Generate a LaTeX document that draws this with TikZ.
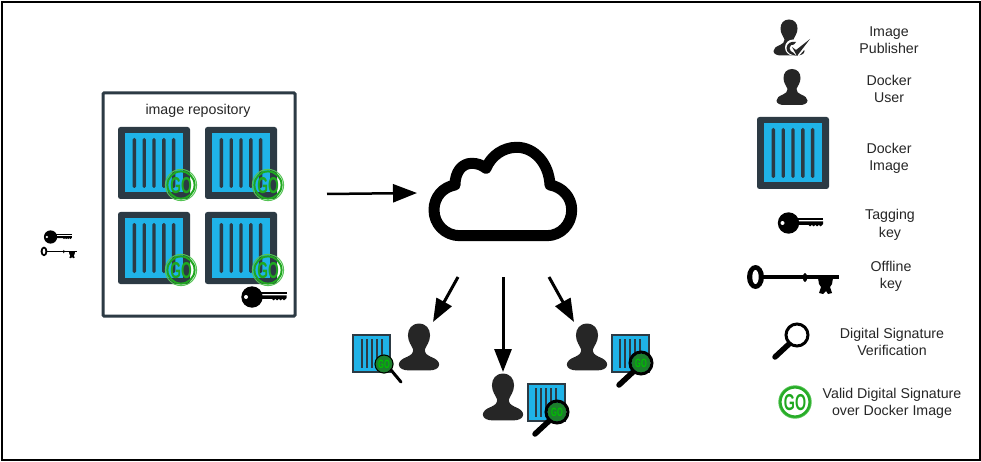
\documentclass[tikz,border=0pt]{standalone}
\usepackage{fontspec}
\usepackage{graphicx}
\setmainfont{Liberation Sans}
\usetikzlibrary{arrows.meta}
\definecolor{slate}{HTML}{2C3A44}
\definecolor{boxblue}{HTML}{1FB3E8}
\definecolor{ink}{HTML}{262626}
\definecolor{gogreen}{HTML}{1FA81F}
\definecolor{goring}{HTML}{55C455}
\definecolor{lensgreen}{HTML}{1C7F2C}
\tikzset{
  x=1pt,y=-1pt,
  lbl/.style={font=\fontsize{14.2}{17.5}\selectfont,align=center,text=ink,inner sep=0pt},
  flow/.style={line width=3pt,draw=black,-{Triangle[length=23pt,width=17pt]}},
  pics/contbox/.style={code={
    \fill[slate,rounded corners=2.5pt] (-36,-36) rectangle (36,36);
    \fill[boxblue] (-29,-29.5) rectangle (29,29.5);
    \foreach \bx in {-19.6,-9.8,0,9.8,19.6}
      \fill[slate,rounded corners=1.5pt] (\bx-1.7,-25) rectangle (\bx+1.7,25);
  }},
  pics/minibox/.style={code={
    \fill[slate] (-19.5,-19.5) rectangle (19.5,19.5);
    \fill[boxblue] (-17.5,-17.5) rectangle (17.5,17.5);
    \foreach \bx in {-10,-5,0,5,10}
      \fill[slate] (\bx-1,-14.5) rectangle (\bx+1,14.5);
  }},
  pics/person/.style={code={
    \fill[ink] (0,-18) .. controls (5.5,-18) and (8.5,-14) .. (8.5,-9)
      .. controls (8.5,-4) and (5.5,-1) .. (4.5,2)
      .. controls (4.5,5) and (6,6) .. (9,7.5)
      .. controls (13,9) and (15.5,11) .. (15.5,13.5)
      .. controls (15.5,16.5) and (12,18) .. (8,18) -- (-8,18)
      .. controls (-12,18) and (-15.5,16.5) .. (-15.5,13.5)
      .. controls (-15.5,11) and (-13,9) .. (-9,7.5)
      .. controls (-6,6) and (-4.5,5) .. (-4.5,2)
      .. controls (-5.5,-1) and (-8.5,-4) .. (-8.5,-9)
      .. controls (-8.5,-14) and (-5.5,-18) .. (0,-18) -- cycle;
  }},
  pics/tagkey/.style={code={
    \fill[black] (-12,0) circle (10.7);
    \fill[black] (-5,-5) rectangle (22.5,-2.9);
    \fill[black] (-5,-1.6) -- (22.5,-1.6) -- (22.5,1.2) -- (20,3.4) -- (18.5,1.8) -- (16.5,3.4) -- (15,1.8) -- (13,3.4) -- (11.5,1.8) -- (9.5,3.4) -- (8,1.8) -- (-5,1.8) -- cycle;
    \fill[white] (-18,0) circle (2);
  }},
  pics/oldkey/.style={code={
    \fill[black] (-37.5,-4) ellipse [x radius=8.5,y radius=12];
    \fill[black] (-30,-5.7) rectangle (45.5,-1.7);
    \fill[black] (12,-3.5) ellipse [x radius=2.2,y radius=4.5];
    \fill[black] (25,-3) -- (40,-3) -- (39,3) -- (37,6) -- (39,12) -- (35,13) -- (33,10) -- (30,13) -- (26,12) -- (28,6) -- (26,3) -- cycle;
    \fill[white] (-37.5,-4) ellipse [x radius=3.2,y radius=7];
  }},
  pics/lens/.style={code={
    \draw[black,line width=3pt] (0,0) circle (11);
    \draw[black,line width=5.5pt,line cap=round] (-8,9) -- (-22,22);
  }},
  pics/gostamp/.style={code={
    \draw[goring,line width=1pt] (0,0) circle (15.6);
    \draw[gogreen,line width=2pt] (0,0) circle (13.6);
    \node[inner sep=0pt,text=gogreen,transform shape,font=\fontsize{23}{23}\bfseries\selectfont] (t) at (0,0.3) {\scalebox{.6}[1]{GO}};
  }},
  pics/goseal/.style={code={
    \fill[white] (0,0) circle (17);
    \draw[goring,line width=1.4pt] (0,0) circle (16);
    \draw[gogreen!85!goring,line width=2.4pt] (0,0) circle (14.6);
    \node[inner sep=0pt,text=gogreen,transform shape,font=\fontsize{23}{23}\bfseries\selectfont] (t) at (0,0.3) {\scalebox{.62}[1]{GO}};
  }},
  pics/minigo/.style={code={
    \fill[lensgreen] (0,0) circle (9.5);
    \node[inner sep=0pt,text=green!75!black,font=\fontsize{12}{12}\bfseries\selectfont] (t) at (0,0.2) {\scalebox{.62}[1]{GO}};
  }}
}
\begin{document}
\begin{tikzpicture}
\useasboundingbox (0,0) rectangle (981,462);
\fill[white] (0,0) rectangle (981,462);
\draw[black,line width=2pt] (2,2) rectangle (979.5,460);
% repository
\draw[slate,line width=3pt,rounded corners=1pt,fill=white] (103,93) rectangle (295,316);
\node[lbl] (repo) at (198,111) {image repository};
\pic (c1) at (154,163) {contbox};
\pic (c2) at (241,163) {contbox};
\pic (c3) at (154,248) {contbox};
\pic (c4) at (241,248) {contbox};
\pic (g1) at (181,185) {gostamp};
\pic (g2) at (268,185) {gostamp};
\pic (g3) at (181,270) {gostamp};
\pic (g4) at (268,270) {gostamp};
\pic (rk) at (264,297) {tagkey};
% left keys
\pic[scale=.62] (lk1) at (58,237) {tagkey};
\pic[scale=.4] (lk2) at (59,253) {oldkey};
% cloud
\draw[black,line width=11pt,line join=round] (460,235.7) -- (546.7,235.7)
  .. controls (561,235.7) and (571.7,224) .. (571.7,210)
  .. controls (571.7,197) and (562,187) .. (550,185)
  .. controls (549,164) and (535,147.3) .. (516.7,147.3)
  .. controls (503,147.3) and (491,156) .. (486,168.3)
  .. controls (482,165) and (477,163.3) .. (471.7,163.3)
  .. controls (462,163.3) and (455,172) .. (455,185)
  .. controls (443,187) and (434,197) .. (434,210)
  .. controls (434,224) and (445,235.7) .. (460,235.7) -- cycle;
% arrows
\coordinate (a0) at (327,194); \coordinate (a1) at (417,193);
\coordinate (b0) at (458,277); \coordinate (b1) at (433,322);
\coordinate (d0) at (503,277); \coordinate (d1) at (503,372);
\coordinate (e0) at (549,277); \coordinate (e1) at (574,322);
\draw[line width=2.5pt,-{Triangle[length=24pt,width=18pt]}] (a0) -- (a1);
\draw[flow] (b0) -- (b1);
\draw[flow] (d0) -- (d1);
\draw[flow] (e0) -- (e1);
% users
\pic (uc1) at (371.5,353.5) {minibox};
\pic (ug1) at (384,364) {minigo};
\draw[black,line width=1pt] (384,364) circle (9);
\draw[black,line width=3pt,line cap=round] (391,370) -- (401,382);
\pic[scale=1.3] (up1) at (419,347) {person};
\pic[scale=1.3] (up2) at (503,397) {person};
\pic (uc2) at (546,402) {minibox};
\pic (ug2) at (557,412) {minigo};
\pic (ul2) at (557,412) {lens};
\pic[scale=1.3] (up3) at (587,347) {person};
\pic (uc3) at (630,353) {minibox};
\pic (ug3) at (641,363) {minigo};
\pic (ul3) at (641,363) {lens};
% legend
\pic (lp) at (789,37.5) {person};
\fill[white] (793,47.5) circle (8);
\fill[white] (797,46) -- (811,36) -- (811,42) -- (798,57) -- cycle;
\fill[ink] (786.5,48) .. controls (787,43) and (791,41) .. (796,42) -- (794,44.5) .. controls (792,44) and (789.5,45.5) .. (789.5,48) .. controls (789.5,50.5) and (791.5,52) .. (793,52.5) -- (796,55.5) .. controls (791,55) and (786.5,53) .. (786.5,48) -- cycle;
\fill[ink] (792,47) -- (796,50) -- (810,39) -- (797,56) -- cycle;
\pic (lu) at (792,87) {person};
\pic (li) at (793,153) {contbox};
\pic (lk) at (800.5,223) {tagkey};
\pic (lo) at (793,281) {oldkey};
\pic (lm) at (797,335) {lens};
\pic (lg) at (795,402) {goseal};
\node[lbl] (t1) at (889,40) {Image\\Publisher};
\node[lbl] (t2) at (889,89) {Docker\\User};
\node[lbl] (t3) at (889,158.5) {Docker\\Image};
\node[lbl] (t4) at (890,225) {Tagging\\key};
\node[lbl] (t5) at (891,276.5) {Offline\\key};
\node[lbl] (t6) at (892,342) {Digital Signature\\Verification};
\node[lbl] (t7) at (892,403.5) {Valid Digital Signature\\over Docker Image};
\end{tikzpicture}
\end{document}
